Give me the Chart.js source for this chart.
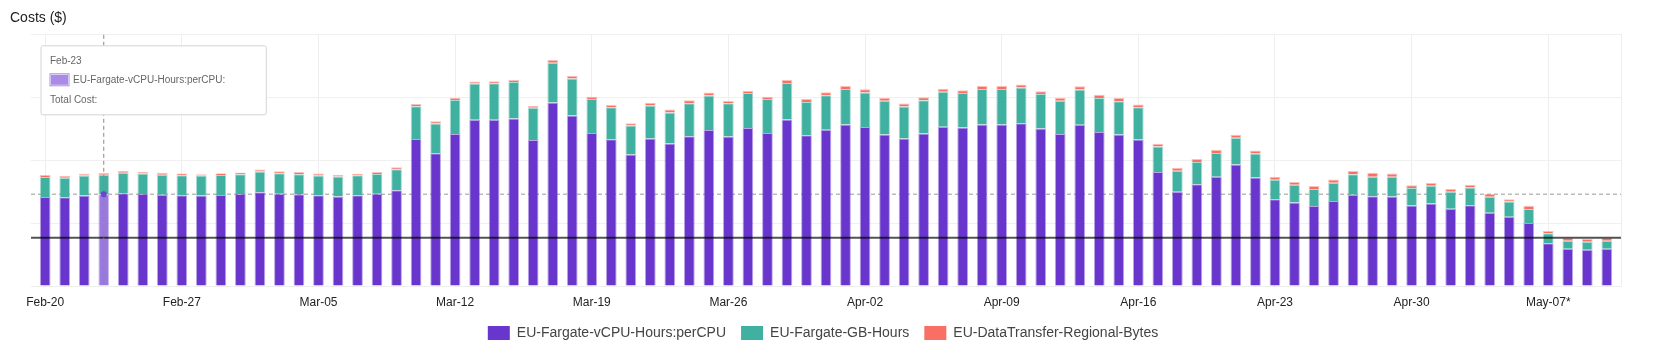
<!DOCTYPE html>
<html>
<head>
<meta charset="utf-8">
<title>Costs</title>
<script src="https://cdn.jsdelivr.net/npm/chart.js@4.4.1/dist/chart.umd.min.js"></script>
<style>
  html, body { margin: 0; padding: 0; background: #fff; }
  #wrap { width: 1660px; height: 350px; }
</style>
</head>
<body>
<div id="wrap"><canvas id="costChart" width="1660" height="350"></canvas></div>
<script>
// one bar per day, Feb-20 .. May-10 (2024)
const dates = [
  'Feb-20','Feb-21','Feb-22','Feb-23','Feb-24','Feb-25','Feb-26','Feb-27','Feb-28','Feb-29',
  'Mar-01','Mar-02','Mar-03','Mar-04','Mar-05','Mar-06','Mar-07','Mar-08','Mar-09','Mar-10',
  'Mar-11','Mar-12','Mar-13','Mar-14','Mar-15','Mar-16','Mar-17','Mar-18','Mar-19','Mar-20',
  'Mar-21','Mar-22','Mar-23','Mar-24','Mar-25','Mar-26','Mar-27','Mar-28','Mar-29','Mar-30',
  'Mar-31','Apr-01','Apr-02','Apr-03','Apr-04','Apr-05','Apr-06','Apr-07','Apr-08','Apr-09',
  'Apr-10','Apr-11','Apr-12','Apr-13','Apr-14','Apr-15','Apr-16','Apr-17','Apr-18','Apr-19',
  'Apr-20','Apr-21','Apr-22','Apr-23','Apr-24','Apr-25','Apr-26','Apr-27','Apr-28','Apr-29',
  'Apr-30','May-01','May-02','May-03','May-04','May-05','May-06','May-07','May-08','May-09',
  'May-10'
];
const tickLabels = ['Feb-20','Feb-27','Mar-05','Mar-12','Mar-19','Mar-26','Apr-02','Apr-09','Apr-16','Apr-23','Apr-30','May-07*'];

const vcpuCost = [
  70.9, 70.7, 72.0, 73.1, 73.9, 73.3, 72.7, 72.3, 72.0, 72.5,
  73.3, 74.7, 73.5, 73.1, 72.3, 71.2, 72.3, 73.5, 76.3, 117.1,
  105.7, 121.1, 132.3, 132.3, 133.3, 116.3, 146.1, 135.7, 121.9, 116.9,
  104.6, 117.4, 113.4, 119.3, 124.3, 119.0, 125.7, 121.9, 132.5, 120.1,
  124.5, 128.5, 126.5, 120.6, 117.4, 121.4, 126.7, 126.1, 128.5, 128.5,
  129.6, 125.3, 121.1, 128.3, 122.7, 120.6, 116.6, 90.8, 75.1, 81.0,
  86.9, 96.7, 86.3, 69.1, 66.4, 63.7, 67.7, 72.7, 71.5, 71.2,
  64.0, 65.6, 61.6, 64.3, 58.4, 55.2, 50.2, 34.0, 29.7, 28.9,
  29.7
];
const gbHoursCost = [
  15.9, 15.4, 15.9, 15.4, 16.2, 16.2, 15.9, 15.9, 15.9, 15.9,
  15.7, 16.5, 16.2, 15.9, 15.7, 15.9, 15.9, 15.7, 16.7, 26.1,
  23.7, 26.9, 28.9, 29.2, 29.2, 25.7, 31.6, 29.5, 26.9, 25.5,
  23.1, 26.3, 24.7, 26.3, 27.3, 26.5, 27.9, 26.9, 29.2, 26.3,
  27.3, 28.4, 27.6, 26.9, 25.5, 26.5, 27.9, 27.6, 28.4, 28.4,
  28.4, 27.6, 26.3, 28.1, 26.9, 26.5, 25.7, 20.2, 16.7, 17.8,
  18.9, 21.3, 19.1, 15.4, 14.3, 13.5, 14.6, 16.2, 15.4, 15.7,
  14.1, 14.3, 13.5, 14.1, 12.7, 12.0, 11.2, 8.0, 6.4, 6.4,
  6.4
];
const dataTransferCost = [
  1.6, 1.6, 1.4, 1.4, 1.6, 1.4, 1.6, 1.4, 1.0, 1.4,
  1.4, 1.6, 1.6, 1.8, 1.6, 1.4, 1.0, 1.6, 1.6, 1.8,
  1.8, 1.8, 1.6, 1.6, 1.6, 1.4, 2.2, 2.2, 1.8, 1.8,
  1.8, 2.2, 2.4, 2.2, 2.4, 1.8, 1.8, 1.8, 2.4, 2.4,
  2.4, 2.4, 2.6, 2.4, 2.4, 2.4, 2.4, 2.2, 2.4, 2.4,
  2.4, 2.2, 2.4, 2.6, 2.6, 2.6, 2.2, 2.2, 2.4, 2.4,
  2.6, 2.4, 2.4, 2.4, 2.2, 2.4, 2.4, 2.6, 3.2, 2.6,
  2.2, 2.2, 2.2, 2.2, 2.2, 1.8, 2.4, 1.8, 2.2, 2.2,
  2.2
];
const budgetLine = 38.4;
const hoveredIndex = 3;

Chart.defaults.font.family = "'Liberation Sans', Arial, sans-serif";

function toPoints(values) {
    return values.map((v, i) => ({ x: i, y: v }));
}

// custom tooltip position: pinned to the top left corner of the plot
Chart.Tooltip.positioners.topLeftCorner = function() {
    const area = this.chart.chartArea;
    return { x: area.left + 12, y: area.top + 11 };
};

const linesPlugin = {
    id: 'costLines',
    beforeDatasetsDraw(chart) {
        const active = chart.getActiveElements();
        if (!active.length) return;
        const {ctx, chartArea} = chart;
        const y = active[0].element.y;
        ctx.save();
        ctx.setLineDash([4, 3]);
        ctx.strokeStyle = '#999';
        ctx.lineWidth = 1;
        ctx.beginPath();
        ctx.moveTo(chartArea.left, y);
        ctx.lineTo(chartArea.right, y);
        ctx.stroke();
        ctx.restore();
    },
    afterDatasetsDraw(chart) {
        const {ctx, chartArea, scales} = chart;
        const yb = scales.y.getPixelForValue(budgetLine);
        ctx.save();
        ctx.strokeStyle = 'rgba(0,0,0,0.68)';
        ctx.lineWidth = 2;
        ctx.beginPath();
        ctx.moveTo(chartArea.left, yb);
        ctx.lineTo(chartArea.right, yb);
        ctx.stroke();

        const active = chart.getActiveElements();
        if (active.length) {
            const el = active[0].element;
            ctx.setLineDash([4, 3]);
            ctx.strokeStyle = '#888';
            ctx.lineWidth = 1;
            ctx.beginPath();
            ctx.moveTo(el.x, chartArea.top);
            ctx.lineTo(el.x, chartArea.bottom);
            ctx.stroke();
            ctx.setLineDash([]);
            ctx.fillStyle = 'rgba(104,54,204,0.85)';
            ctx.beginPath();
            ctx.arc(el.x, el.y, 3, 0, Math.PI * 2);
            ctx.fill();
        }
        ctx.restore();
    }
};

const ctxChart = document.getElementById('costChart');
const chart = new Chart(ctxChart, {
    type: 'bar',
    data: {
        datasets: [{
            label: 'EU-Fargate-vCPU-Hours:perCPU',
            data: toPoints(vcpuCost),
            backgroundColor: '#6836cc',
            borderColor: 'rgba(104,54,204,0.45)',
            hoverBackgroundColor: '#9a7ade',
            hoverBorderColor: 'rgba(154,122,222,0.5)',
            borderWidth: 1
        }, {
            label: 'EU-Fargate-GB-Hours',
            data: toPoints(gbHoursCost),
            backgroundColor: '#40b1a0',
            borderColor: 'rgba(64,177,160,0.45)',
            borderWidth: 1
        }, {
            label: 'EU-DataTransfer-Regional-Bytes',
            data: toPoints(dataTransferCost),
            backgroundColor: '#f96f63',
            borderColor: 'rgba(249,111,99,0.45)',
            borderWidth: 1
        }]
    },
    options: {
        responsive: false,
        animation: false,
        events: [],
        barPercentage: 0.55,
        categoryPercentage: 1,
        layout: { padding: { left: 10, right: 24, top: 0, bottom: 0 } },
        scales: {
            x: {
                type: 'linear',
                stacked: true,
                offset: false,
                min: -0.727,
                max: 80.727,
                grid: { offset: false, color: '#eeeeee', drawTicks: false },
                border: { color: '#eeeeee' },
                ticks: {
                    stepSize: 7,
                    maxTicksLimit: 20,
                    includeBounds: false,
                    autoSkip: false,
                    maxRotation: 0,
                    padding: 9,
                    color: '#222',
                    font: { size: 12 },
                    callback: (value) => tickLabels[value / 7]
                },
                afterFit: (scale) => { scale.height = 25; }
            },
            y: {
                stacked: true,
                min: 0,
                max: 200,
                grid: { color: '#f0f0f0', drawTicks: false },
                border: { display: false },
                ticks: { display: false, stepSize: 50 },
                afterFit: (scale) => { scale.width = 21; }
            },
            y2: {
                type: 'linear',
                position: 'right',
                display: true,
                grid: { drawOnChartArea: false, drawTicks: false },
                border: { color: '#eeeeee' },
                ticks: { display: false },
                afterFit: (scale) => { scale.width = 15; }
            }
        },
        plugins: {
            title: {
                display: true,
                text: 'Costs ($)',
                align: 'start',
                color: '#222',
                font: { size: 14, weight: 'normal' },
                padding: { top: 10, bottom: 8 }
            },
            legend: {
                position: 'bottom',
                labels: {
                    color: '#444',
                    font: { size: 14 },
                    boxWidth: 22,
                    boxHeight: 14,
                    padding: 15,
                    generateLabels: function(chart) {
                        return Chart.defaults.plugins.legend.labels.generateLabels(chart)
                            .map(item => Object.assign(item, { lineWidth: 0 }));
                    }
                }
            },
            tooltip: {
                position: 'topLeftCorner',
                xAlign: 'left',
                yAlign: 'top',
                caretSize: 0,
                caretPadding: 0,
                cornerRadius: 2,
                backgroundColor: '#fff',
                borderColor: '#d4d4d4',
                borderWidth: 1,
                titleColor: '#666',
                bodyColor: '#666',
                footerColor: '#666',
                titleFont: { size: 10, weight: 'normal' },
                bodyFont: { size: 10 },
                footerFont: { size: 10, weight: 'normal' },
                titleMarginBottom: 7,
                footerMarginTop: 8,
                padding: { top: 9, bottom: 9, left: 9, right: 41 },
                boxWidth: 19,
                boxHeight: 12,
                boxPadding: 2,
                callbacks: {
                    title: (items) => dates[items[0].dataIndex],
                    label: (context) => context.dataset.label + ':',
                    labelColor: () => ({ borderColor: '#a98be6', backgroundColor: '#a98be6' }),
                    footer: () => 'Total Cost:'
                }
            }
        }
    },
    plugins: [linesPlugin]
});

// show the hover state of Feb-23 like in the screenshot
const hovered = [{ datasetIndex: 0, index: hoveredIndex }];
chart.setActiveElements(hovered);
chart.tooltip.setActiveElements(hovered, { x: 0, y: 0 });
chart.update();
</script>
</body>
</html>
